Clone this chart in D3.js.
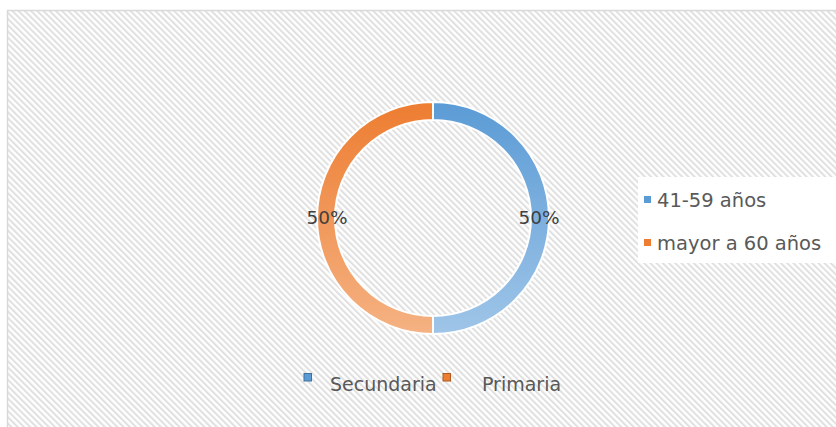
<!DOCTYPE html>
<meta charset="utf-8">
<script src="https://d3js.org/d3.v7.min.js"></script>
<style>
    body { margin: 0; background: #fff; }
    text { font-family: "DejaVu Sans", sans-serif; fill: #404040; }
    .legtxt { fill: #595959; }
</style>
<div id="vis"></div>
<script>
    // data
    var ringNames = ["41-59 años", "mayor a 60 años"];
    var ringValues = [50, 50];
    var ringLabels = ["50%", "50%"];
    var bottomNames = ["Secundaria", "Primaria"];

    var W = 836, H = 427;
    var cx = 433, cy = 218, rOut = 116, rIn = 98;

    var svg = d3.select("#vis").append("svg")
        .attr("width", W).attr("height", H);
    var defs = svg.append("defs");

    // hatched background
    var pat = defs.append("pattern")
        .attr("id", "hatch")
        .attr("patternUnits", "userSpaceOnUse")
        .attr("width", 4.4).attr("height", 4.4)
        .attr("patternTransform", "rotate(-45)");
    pat.append("rect").attr("width", 4.4).attr("height", 4.4).attr("fill", "#fff");
    pat.append("rect").attr("width", 2).attr("height", 4.4).attr("fill", "#e0e0e0");

    svg.append("rect")
        .attr("x", 7).attr("y", 10).attr("width", W - 7).attr("height", H - 10)
        .attr("fill", "url(#hatch)");
    svg.append("path")
        .attr("d", "M7.5," + H + "V10.5H" + W)
        .attr("fill", "none").attr("stroke", "#d9d9d9").attr("stroke-width", 1.5);

    // gradients for slices
    var grads = [["#5b9bd5", "#9fc5e8"], ["#ed7d31", "#f5b283"]];
    grads.forEach(function (g, i) {
        var lg = defs.append("linearGradient")
            .attr("id", "g" + i)
            .attr("gradientUnits", "userSpaceOnUse")
            .attr("x1", 0).attr("y1", -rOut).attr("x2", 0).attr("y2", rOut);
        lg.append("stop").attr("offset", 0).attr("stop-color", g[0]);
        lg.append("stop").attr("offset", 1).attr("stop-color", g[1]);
    });

    var pie = d3.pie().sort(null).value(function (d) { return d; });
    var arc = d3.arc().innerRadius(rIn).outerRadius(rOut);
    var arcs = pie(ringValues);

    var g = svg.append("g").attr("transform", "translate(" + cx + "," + cy + ")");
    g.selectAll("path.slice")
        .data(arcs)
        .enter().append("path")
        .attr("class", "slice")
        .attr("d", arc)
        .attr("fill", function (d, i) { return "url(#g" + i + ")"; })
        .attr("stroke", "#fff")
        .attr("stroke-width", 2);

    // data labels at ring middle
    var lblArc = d3.arc().innerRadius((rIn + rOut) / 2 - 1).outerRadius((rIn + rOut) / 2 - 1);
    g.selectAll("text.lbl")
        .data(arcs)
        .enter().append("text")
        .attr("class", "lbl")
        .attr("transform", function (d) { return "translate(" + lblArc.centroid(d) + ")"; })
        .attr("text-anchor", "middle")
        .attr("dy", "0.35em")
        .style("font-size", "18.5px")
        .text(function (d, i) { return ringLabels[i]; });

    // right legend
    var leg = svg.append("g");
    leg.append("rect")
        .attr("x", 638).attr("y", 177).attr("width", W - 638).attr("height", 86)
        .attr("fill", "#fff");
    var legY = d3.scalePoint().domain(ringNames).range([200, 243]);
    ringNames.forEach(function (n, i) {
        leg.append("rect")
            .attr("x", 644).attr("y", legY(n) - 4).attr("width", 7).attr("height", 7)
            .attr("fill", grads[i][0]);
        leg.append("text")
            .attr("class", "legtxt")
            .attr("x", 657).attr("y", legY(n))
            .attr("dy", "0.35em")
            .style("font-size", "19.5px")
            .text(n);
    });

    // bottom legend
    var bx = [304, 443], tx = [330, 482];
    var bcol = [["#5b9bd5", "#41719c"], ["#ed7d31", "#ae5a21"]];
    bottomNames.forEach(function (n, i) {
        svg.append("rect")
            .attr("x", bx[i]).attr("y", 373.5).attr("width", 7.5).attr("height", 7.5)
            .attr("fill", bcol[i][0]).attr("stroke", bcol[i][1]).attr("stroke-width", 1);
        svg.append("text")
            .attr("class", "legtxt")
            .attr("x", tx[i]).attr("y", 384)
            .attr("dy", "0.35em")
            .style("font-size", "19px")
            .text(n);
    });
</script>
